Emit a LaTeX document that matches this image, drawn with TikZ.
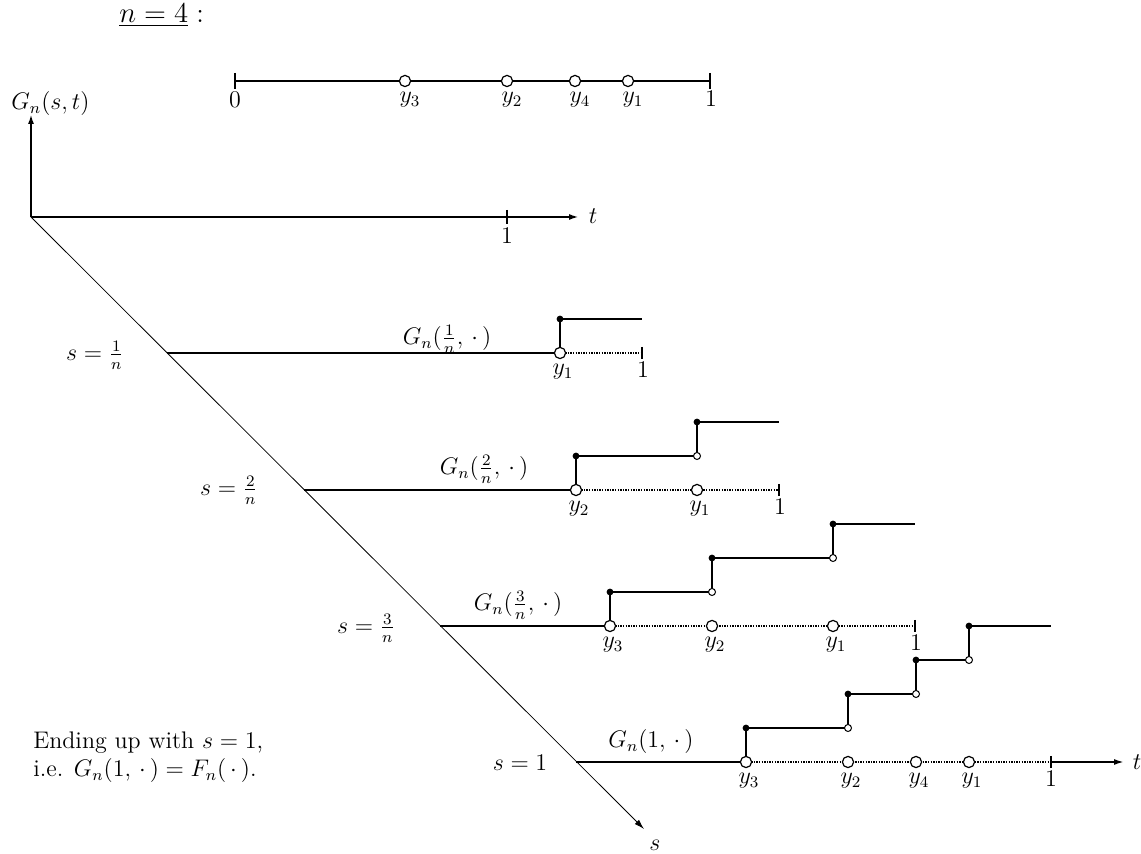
\documentclass[tikz,border=0pt]{standalone}
\usetikzlibrary{arrows.meta}
\begin{document}
\begin{tikzpicture}[x=0.5pt,y=-0.5pt,
  every node/.style={font=\fontsize{12}{14}\selectfont, inner sep=1pt},
  haxis/.style={line width=1.4pt},
  vaxis/.style={line width=1pt},
  topline/.style={line width=0.8pt},
  rowline/.style={line width=0.9pt},
  thickjump/.style={line width=1.4pt},
  diag/.style={line width=0.4pt},
  dots/.style={line width=0.75pt, dash pattern=on 0.7pt off 0.6pt},
  tip/.style={-{Latex[length=5pt,width=3pt]}},
  bigopen/.style={circle, draw, fill=white, line width=0.6pt, minimum size=5.6pt, inner sep=0pt},
  smallopen/.style={circle, draw, fill=white, line width=0.5pt, minimum size=3.5pt, inner sep=0pt},
  fulldot/.style={circle, fill=black, minimum size=3.4pt, inner sep=0pt},
  lbl/.style={inner sep=0pt}
]
\useasboundingbox (0,0) rectangle (1141,854);

% title
\node[anchor=base west, font=\fontsize{14}{16}\selectfont] (title) at (117,23) {$\underline{n=4}\;$:};

% top line
\coordinate (t0) at (235,81);
\coordinate (t1) at (710,81);
\draw[topline] (t0) -- (t1);
\draw[topline] (235,73) -- (235,89);
\draw[topline] (710,73) -- (710,89);
\node[bigopen] (ty3) at (405,81) {};
\node[bigopen] (ty2) at (507,81) {};
\node[bigopen] (ty4) at (575,81) {};
\node[bigopen] (ty1) at (628,81) {};
\node[lbl] (tl0) at (235,100) {$0$};
\node[lbl] (tl3) at (410,100) {$y_3$};
\node[lbl] (tl2) at (512,100) {$y_2$};
\node[lbl] (tl4) at (580,100) {$y_4$};
\node[lbl] (tl1) at (633,100) {$y_1$};
\node[lbl] (tl5) at (711,99) {$1$};

% main axes
\coordinate (O) at (31,217);
\coordinate (Vtop) at (31,114);
\coordinate (Hend) at (579,217);
\coordinate (Send) at (644,829);
\draw[vaxis,tip] (O) -- (Vtop);
\draw[haxis,tip] (O) -- (Hend);
\draw[vaxis] (507,210) -- (507,224);
\node[lbl] (ax1) at (507,236) {$1$};
\node[anchor=base west] (G) at (9,110) {$G_n(s,t)$};
\node[lbl] (tlab) at (593,216) {$t$};
\draw[diag,-{Latex[length=5pt,width=3pt]}] (O) -- (Send);
\node[lbl] (slab) at (655,845) {$s$};

% ---------- row 1 ----------
\begin{scope}[shift={(167,353)}]
  \coordinate (r1o) at (0,0);
  \coordinate (r1one) at (475,0);
  \coordinate (r1e) at (475,-34);
  \draw[rowline] (r1o) -- (393,0);
  \draw[dots] (393,0) -- (r1one);
  \draw[thickjump] (475,-6) -- (475,6);
  \draw[thickjump] (393,0) -- (393,-34);
  \draw[rowline] (393,-34) -- (r1e);
  \node[bigopen] (r1a) at (393,0) {};
  \node[fulldot] (r1b) at (393,-34) {};
  \node[lbl] (r1la) at (396,19) {$y_1$};
  \node[lbl] (r1l1) at (476,17) {$1$};
\end{scope}
\node[lbl] (G1) at (447,339) {$G_n(\frac{1}{n},\,\cdot\,)$};
\node[lbl] (s1) at (95,355) {$s=\frac{1}{n}$};

% ---------- row 2 ----------
\begin{scope}[shift={(304,490)}]
  \coordinate (r2o) at (0,0);
  \coordinate (r2one) at (475,0);
  \coordinate (r2e) at (475,-68);
  \draw[rowline] (r2o) -- (272,0);
  \draw[dots] (272,0) -- (r2one);
  \draw[thickjump] (475,-6) -- (475,6);
  \draw[rowline] (272,0) -- (272,-34) -- (393,-34);
  \draw[rowline] (393,-34) -- (393,-68);
  \draw[thickjump] (393,-68) -- (r2e);
  \node[bigopen] (r2a) at (272,0) {};
  \node[bigopen] (r2b) at (393,0) {};
  \node[fulldot] (r2c) at (272,-34) {};
  \node[smallopen] (r2d) at (393,-34) {};
  \node[fulldot] (r2f) at (393,-68) {};
  \node[lbl] (r2la) at (275,19) {$y_2$};
  \node[lbl] (r2lb) at (396,19) {$y_1$};
  \node[lbl] (r2l1) at (476,17) {$1$};
\end{scope}
\node[lbl] (G2) at (484,469) {$G_n(\frac{2}{n},\,\cdot\,)$};
\node[lbl] (s2) at (229,490) {$s=\frac{2}{n}$};

% ---------- row 3 ----------
\begin{scope}[shift={(440,626)}]
  \coordinate (r3o) at (0,0);
  \coordinate (r3one) at (475,0);
  \coordinate (r3e) at (475,-102);
  \draw[rowline] (r3o) -- (170,0);
  \draw[dots] (170,0) -- (r3one);
  \draw[thickjump] (475,-6) -- (475,6);
  \draw[thickjump] (170,0) -- (170,-34);
  \draw[rowline] (170,-34) -- (272,-34);
  \draw[rowline] (272,-34) -- (272,-68) -- (393,-68);
  \draw[thickjump] (393,-68) -- (393,-102);
  \draw[rowline] (393,-102) -- (r3e);
  \node[bigopen] (r3a) at (170,0) {};
  \node[bigopen] (r3b) at (272,0) {};
  \node[bigopen] (r3c) at (393,0) {};
  \node[fulldot] (r3d) at (170,-34) {};
  \node[smallopen] (r3f) at (272,-34) {};
  \node[fulldot] (r3g) at (272,-68) {};
  \node[smallopen] (r3h) at (393,-68) {};
  \node[fulldot] (r3i) at (393,-102) {};
  \node[lbl] (r3la) at (173,19) {$y_3$};
  \node[lbl] (r3lb) at (275,19) {$y_2$};
  \node[lbl] (r3lc) at (396,19) {$y_1$};
  \node[lbl] (r3l1) at (476,17) {$1$};
\end{scope}
\node[lbl] (G3) at (518,605) {$G_n(\frac{3}{n},\,\cdot\,)$};
\node[lbl] (s3) at (366,628) {$s=\frac{3}{n}$};

% ---------- row 4 ----------
\begin{scope}[shift={(576,762)}]
  \coordinate (r4o) at (0,0);
  \coordinate (r4one) at (475,0);
  \coordinate (r4end) at (548,0);
  \coordinate (r4e) at (475,-136);
  \draw[rowline] (r4o) -- (170,0);
  \draw[dots] (170,0) -- (r4one);
  \draw[rowline,tip] (r4one) -- (r4end);
  \draw[rowline] (475,-6) -- (475,6);
  \draw[rowline] (170,0) -- (170,-34) -- (272,-34);
  \draw[rowline] (272,-34) -- (272,-68) -- (340,-68);
  \draw[thickjump] (340,-68) -- (340,-102);
  \draw[rowline] (340,-102) -- (393,-102);
  \draw[rowline] (393,-102) -- (393,-136) -- (r4e);
  \node[bigopen] (r4a) at (170,0) {};
  \node[bigopen] (r4b) at (272,0) {};
  \node[bigopen] (r4c) at (340,0) {};
  \node[bigopen] (r4d) at (393,0) {};
  \node[fulldot] (r4f) at (170,-34) {};
  \node[smallopen] (r4g) at (272,-34) {};
  \node[fulldot] (r4h) at (272,-68) {};
  \node[smallopen] (r4i) at (340,-68) {};
  \node[fulldot] (r4j) at (340,-102) {};
  \node[smallopen] (r4k) at (393,-102) {};
  \node[fulldot] (r4m) at (393,-136) {};
  \node[lbl] (r4la) at (173,19) {$y_3$};
  \node[lbl] (r4lb) at (275,19) {$y_2$};
  \node[lbl] (r4lc) at (343,19) {$y_4$};
  \node[lbl] (r4ld) at (396,19) {$y_1$};
  \node[lbl] (r4l1) at (475,17) {$1$};
  \node[lbl] (r4t) at (561,0) {$t$};
\end{scope}
\node[lbl] (G4) at (651,742) {$G_n(1,\,\cdot\,)$};
\node[lbl] (s4) at (520,763) {$s=1$};

% bottom-left remark
\node[anchor=base west] (end1) at (31,749) {Ending up with $s=1$,};
\node[anchor=base west] (end2) at (31,777) {i.e. $G_n(1,\,\cdot\,)=F_n(\,\cdot\,)$.};
\end{tikzpicture}
\end{document}
